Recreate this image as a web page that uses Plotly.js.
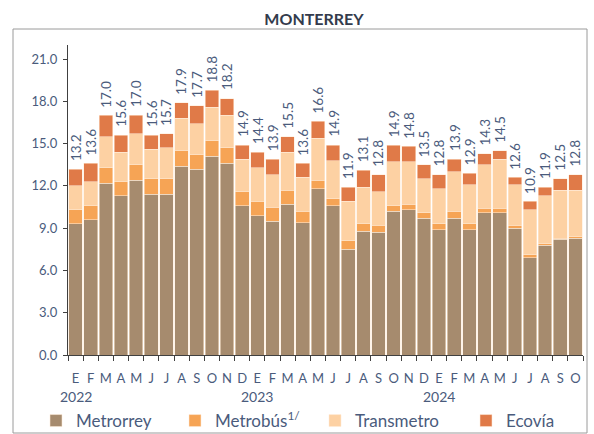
<!DOCTYPE html>
<html>
<head>
<meta charset="utf-8">
<script src="https://cdn.plot.ly/plotly-3.0.1.min.js"></script>
<style>html,body{margin:0;padding:0;background:#fff;}#chart{width:594px;height:434px;}</style>
</head>
<body>
<div id="chart"></div>
<script>
// Months (E=enero ... D=diciembre), Jan 2022 - Oct 2024
const months = ["E","F","M","A","M","J","J","A","S","O","N","D",
                "E","F","M","A","M","J","J","A","S","O","N","D",
                "E","F","M","A","M","J","J","A","S","O"];
const years = ["2022","2023","2024"];
const yearStartIndex = [0,12,24];

// Millions of passengers by system
const metrorrey  = [9.3,9.6,12.2,11.3,12.4,11.4,11.4,13.4,13.2,14.1,13.6,10.6,
                    9.9,9.5,10.7,9.4,11.8,10.6,7.5,8.8,8.7,10.2,10.3,9.7,
                    8.9,9.7,8.9,10.1,10.1,9.0,6.9,7.8,8.2,8.3];
const metrobus   = [1.0,1.0,1.1,1.0,1.1,1.1,1.1,1.1,1.0,1.1,1.1,1.0,
                    1.0,1.0,1.0,0.8,0.6,0.5,0.6,0.5,0.5,0.4,0.4,0.4,
                    0.4,0.5,0.4,0.3,0.3,0.2,0.2,0.1,0.1,0.1];
const transmetro = [1.7,1.7,2.2,2.1,2.2,2.1,2.2,2.3,2.2,2.4,2.3,2.3,
                    2.4,2.3,2.7,2.4,3.0,2.7,2.8,2.6,2.4,3.1,3.0,2.4,
                    2.5,2.8,2.8,3.1,3.5,2.9,3.2,3.4,3.4,3.3];
const ecovia     = [1.2,1.3,1.5,1.2,1.3,1.0,1.0,1.1,1.3,1.2,1.2,1.0,
                    1.1,1.1,1.1,1.0,1.2,1.1,1.0,1.2,1.2,1.2,1.1,1.0,
                    1.0,0.9,0.8,0.8,0.6,0.5,0.6,0.6,0.8,1.1];
const totals     = [13.2,13.6,17.0,15.6,17.0,15.6,15.7,17.9,17.7,18.8,18.2,14.9,
                    14.4,13.9,15.5,13.6,16.6,14.9,11.9,13.1,12.8,14.9,14.8,13.5,
                    12.8,13.9,12.9,14.3,14.5,12.6,10.9,11.9,12.5,12.8];

const x = months.map((m,i)=>i);
const labelColor = "#4a5b7c";
const fontFam = "Lato, 'Open Sans', sans-serif";

function barTrace(name, y, color, legendId){
  return {type:"bar", name:name, x:x, y:y, legend:legendId,
          marker:{color:color, line:{color:"rgba(255,235,215,0.9)", width:0.6}},
          hoverinfo:"y+name"};
}

const data = [
  barTrace("Metrorrey", metrorrey, "#a68b6e", "legend"),
  barTrace("Metrobús<sup>1/</sup>", metrobus, "#f6a455", "legend2"),
  barTrace("Transmetro", transmetro, "#fdd1a3", "legend3"),
  barTrace("Ecovía", ecovia, "#e07a48", "legend4")
];

const annotations = totals.map((t,i)=>({
  x:i, y:t, xref:"x", yref:"y", text:t.toFixed(1), showarrow:false,
  textangle:-90, xanchor:"center", yanchor:"bottom", yshift:6,
  font:{family:fontFam, size:13.5, color:labelColor}
}));
years.forEach((yr,k)=>{
  annotations.push({x:yearStartIndex[k], y:-0.135, xref:"x", yref:"paper",
    text:yr, showarrow:false, xanchor:"center", yanchor:"middle",
    font:{family:fontFam, size:14, color:labelColor}});
});

function legendAt(px){
  return {orientation:"h", xref:"container", yref:"container",
          x:px/594, xanchor:"left", y:(434-421)/434, yanchor:"middle",
          font:{family:fontFam, size:17, color:labelColor}, itemclick:false,
          bgcolor:"rgba(0,0,0,0)"};
}

const layout = {
  width:594, height:434,
  margin:{l:68, r:11, t:45, b:79},
  paper_bgcolor:"#fff", plot_bgcolor:"#fff",
  barmode:"stack", bargap:0.1,
  title:{text:"<b>MONTERREY</b>", xref:"container", yref:"container",
         x:314/594, y:1-19/434, xanchor:"center", yanchor:"middle",
         font:{family:fontFam, size:16, color:"#333b4c"}},
  xaxis:{range:[-0.5,33.5], tickmode:"array", tickvals:x, ticktext:months,
         ticks:"", showline:true, linecolor:"#404040", linewidth:1.2,
         showgrid:false, zeroline:false, fixedrange:true, ticklabelstandoff:11,
         automargin:false,
         tickfont:{family:fontFam, size:13, color:labelColor},
         minor:{tickmode:"linear", tick0:-0.5, dtick:1, ticks:"outside",
                ticklen:5, tickcolor:"#404040", tickwidth:1, showgrid:false}},
  yaxis:{range:[0,22], tickmode:"linear", tick0:0, dtick:3, tickformat:".1f",
         ticks:"outside", ticklen:4, tickcolor:"#404040",
         showline:true, linecolor:"#404040", linewidth:1.2, automargin:false,
         showgrid:false, zeroline:false, fixedrange:true, ticklabelstandoff:3,
         tickfont:{family:fontFam, size:13, color:labelColor}},
  showlegend:true,
  legend:legendAt(36),
  legend2:legendAt(175),
  legend3:legendAt(315),
  legend4:legendAt(466),
  annotations:annotations,
  shapes:[{type:"rect", xref:"paper", yref:"paper",
           x0:(13-68)/515, x1:(587-68)/515, y0:(355-433)/310, y1:(355-29)/310,
           line:{color:"#9a9a9a", width:1}, fillcolor:"rgba(0,0,0,0)", layer:"below"}]
};

Plotly.newPlot("chart", data, layout, {displayModeBar:false, staticPlot:true});
</script>
</body>
</html>
